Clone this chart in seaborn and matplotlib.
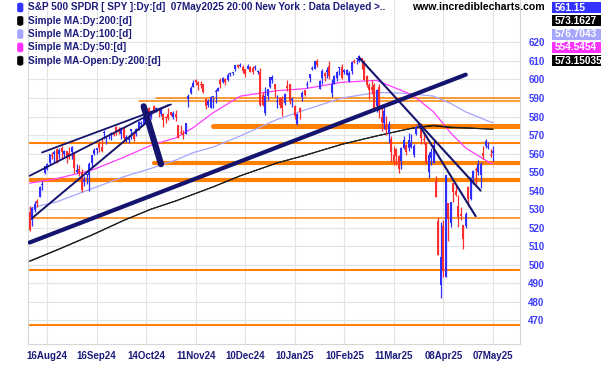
import numpy as np
import pandas as pd
import seaborn as sns
import matplotlib.pyplot as plt
from matplotlib.patches import FancyBboxPatch, Rectangle

# trading days shown on the chart
holidays = ['2024-09-02', '2024-11-28', '2024-12-25', '2025-01-01',
            '2025-01-09', '2025-01-20', '2025-02-17', '2025-04-18']
dates = pd.bdate_range('2024-08-07', '2025-05-07')
dates = dates[~dates.isin(pd.to_datetime(holidays))]

# daily OHLC (Aug, Sep, Oct, Nov, Dec, Jan, Feb, Mar, Apr, May)
opens = [528.5, 523.9, 529.8, 534.2, 536.5, 542.9, 549.5, 551.4, 554.7, 559.2, 559.8, 562.6, 559.5, 563.2, 559.5, 561.2, 560.3, 560.8,
         560.5, 550.2, 551.4, 549.9, 544.7, 548.4, 548.7, 555.0, 559.7, 561.7, 565.1, 563.7, 571.0, 567.8, 569.3, 570.5, 571.1, 574.4, 573.4, 570.4,
         573.4, 567.7, 567.4, 572.4, 571.3, 570.4, 573.2, 575.8, 576.1, 581.2, 584.6, 579.8, 585.9, 584.1, 583.9, 581.1, 581.3, 580.0, 581.5, 582.6, 579.9, 581.3, 575.6,
         571.3, 571.2, 570.7, 589.2, 592.9, 596.2, 599.8, 598.7, 597.4, 597.3, 589.7, 586.2, 584.7, 590.4, 593.4, 593.7, 599.5, 598.8, 600.5, 599.7,
         603.0, 603.4, 605.6, 607.7, 607.4, 606.6, 605.4, 605.8, 606.6, 606.4, 606.0, 604.2, 604.0, 591.4, 581.8, 590.9, 596.1, 599.5, 597.5, 587.9, 589.9,
         589.4, 587.5, 596.3, 597.4, 588.7, 585.9, 575.8, 584.4, 590.3, 594.2, 597.0, 600.7, 605.9, 605.8, 609.8, 594.8, 600.6, 603.7, 604.0, 607.5,
         592.7, 597.8, 600.6, 606.0, 606.9, 604.0, 602.6, 599.2, 604.5, 609.9, 610.9, 610.1, 611.5, 610.2, 602.0, 597.2, 595.9, 597.0, 585.6,
         596.2, 579.7, 576.7, 575.5, 570.9, 567.6, 559.4, 562.2, 558.5, 556.1, 562.8, 564.8, 562.8, 563.3, 559.3, 570.8, 575.3, 575.2, 567.2, 565.5, 549.8,
         557.5, 555.1, 545.1, 523.7, 489.2, 521.0, 493.4, 533.1, 522.6, 544.1, 539.7, 531.7, 527.6, 521.2, 521.0, 542.0, 535.5, 546.6, 551.4, 550.0, 548.6,
         560.4, 564.2, 563.4, 559.0, 560.2]
highs = [531.6, 531.3, 534.5, 535.7, 542.3, 545.0, 553.5, 555.0, 559.6, 560.8, 562.1, 563.2, 563.1, 563.9, 562.1, 561.6, 563.7, 564.2,
         560.8, 554.4, 553.8, 551.6, 547.7, 549.2, 555.4, 559.4, 563.0, 563.1, 566.6, 568.7, 572.9, 569.3, 570.4, 571.4, 571.9, 574.7, 574.2, 574.4,
         574.1, 569.9, 569.8, 573.4, 572.0, 573.8, 577.7, 577.6, 580.3, 585.3, 584.9, 582.8, 586.1, 585.4, 584.0, 584.5, 581.7, 580.1, 584.5, 582.7, 582.9, 583.3, 575.6,
         575.6, 572.5, 576.7, 591.9, 596.7, 599.6, 600.2, 599.3, 599.2, 597.8, 590.2, 589.5, 591.0, 590.8, 595.1, 596.2, 600.9, 601.3, 600.9, 603.3,
         604.3, 604.2, 607.9, 608.5, 609.1, 607.6, 605.8, 608.4, 607.2, 607.2, 607.8, 605.2, 606.4, 593.0, 595.8, 594.5, 601.3, 602.5, 597.8, 591.7, 590.6,
         591.1, 592.6, 599.7, 597.8, 590.6, 586.0, 581.8, 585.0, 593.9, 594.4, 599.4, 603.1, 607.4, 609.8, 610.8, 599.7, 605.4, 604.1, 606.6, 610.0,
         600.3, 602.3, 604.4, 606.5, 608.1, 605.5, 605.9, 604.6, 609.9, 611.0, 611.5, 613.2, 611.5, 610.3, 602.2, 597.9, 599.6, 598.0, 594.7,
         597.3, 585.4, 584.9, 580.2, 577.4, 569.5, 564.0, 563.1, 559.1, 563.8, 569.7, 565.0, 571.0, 570.6, 564.9, 575.2, 576.4, 576.3, 570.9, 566.3, 560.7,
         562.9, 567.4, 548.0, 525.9, 523.2, 524.0, 548.6, 533.5, 533.9, 544.3, 543.2, 537.9, 531.2, 521.7, 528.3, 542.5, 547.4, 551.0, 553.0, 556.5, 555.4,
         564.2, 568.0, 566.2, 562.5, 564.2]
lows = [518.1, 521.1, 528.6, 531.0, 536.4, 540.1, 548.9, 551.3, 553.9, 556.9, 554.7, 555.0, 557.3, 557.2, 558.3, 555.0, 557.2, 557.1,
        549.5, 549.5, 547.7, 539.4, 542.7, 543.4, 540.0, 552.7, 559.4, 559.9, 560.8, 560.8, 568.1, 565.2, 568.0, 567.4, 569.4, 569.9, 570.4, 568.1,
        566.0, 566.2, 565.5, 568.0, 566.6, 569.5, 572.6, 574.5, 575.9, 580.6, 578.5, 578.9, 582.2, 582.6, 579.5, 580.4, 574.4, 576.6, 578.1, 580.5, 578.4, 577.8, 568.4,
        570.6, 567.9, 570.5, 585.4, 592.0, 596.2, 597.0, 594.4, 595.5, 592.7, 583.9, 585.3, 584.6, 584.6, 587.5, 593.6, 595.2, 598.1, 597.2, 599.4,
        602.0, 602.3, 604.8, 606.3, 606.7, 603.4, 601.4, 605.5, 604.3, 602.8, 605.2, 602.9, 585.9, 585.9, 580.9, 589.0, 595.5, 598.1, 590.8, 584.4, 584.4,
        580.5, 586.4, 593.6, 586.8, 585.2, 578.6, 575.4, 578.4, 588.2, 590.9, 595.6, 598.7, 605.1, 605.5, 606.8, 594.6, 597.3, 599.2, 600.7, 600.1,
        590.5, 597.3, 599.2, 602.6, 600.1, 602.7, 602.4, 598.5, 603.2, 609.1, 608.4, 609.6, 605.4, 599.5, 596.1, 589.6, 591.9, 584.7, 582.4,
        579.4, 572.3, 573.1, 570.1, 565.6, 555.6, 553.6, 553.8, 549.7, 551.5, 562.4, 559.1, 561.6, 562.9, 558.0, 570.1, 573.6, 565.2, 564.9, 554.5, 546.9,
        553.7, 554.8, 536.7, 505.3, 481.8, 493.1, 493.1, 512.7, 520.2, 533.9, 536.9, 520.3, 523.9, 508.5, 520.0, 531.6, 535.0, 543.5, 543.6, 548.2, 541.5,
        557.0, 562.8, 562.3, 557.9, 555.9]
closes = [518.7, 530.7, 533.0, 533.3, 542.0, 543.8, 553.1, 554.3, 559.6, 558.7, 560.6, 556.2, 562.1, 560.8, 561.6, 558.3, 558.4, 563.7,
          552.1, 551.0, 549.6, 540.4, 546.4, 548.8, 554.4, 559.1, 562.0, 562.8, 563.1, 561.4, 571.0, 568.3, 569.7, 571.3, 570.0, 572.3, 571.5, 573.8,
          568.6, 568.9, 567.8, 573.0, 567.8, 573.2, 577.1, 576.1, 579.6, 584.3, 579.8, 582.3, 582.4, 584.6, 583.6, 583.3, 578.0, 579.2, 579.0, 580.8, 581.8, 580.0, 568.6,
          571.0, 569.8, 576.7, 591.0, 595.6, 598.2, 598.8, 596.9, 597.2, 593.4, 585.8, 588.2, 590.3, 590.5, 593.7, 595.5, 597.5, 600.7, 598.8, 602.6,
          603.6, 603.9, 607.7, 606.7, 607.8, 604.7, 602.8, 607.5, 604.3, 604.2, 606.8, 604.3, 586.3, 586.1, 591.2, 594.7, 601.3, 601.3, 595.0, 588.2, 586.1,
          584.6, 592.0, 595.4, 588.6, 589.5, 580.5, 581.4, 582.2, 592.8, 591.6, 597.6, 603.1, 606.4, 609.8, 608.0, 599.4, 604.5, 601.8, 605.0, 601.8,
          597.8, 601.8, 604.2, 606.3, 600.8, 604.9, 605.3, 603.4, 609.7, 609.7, 611.5, 612.9, 610.4, 599.9, 597.2, 594.2, 594.5, 584.8, 594.2,
          583.1, 576.9, 583.1, 572.7, 575.9, 560.6, 555.9, 558.9, 551.4, 562.8, 567.2, 561.0, 567.1, 565.5, 564.0, 574.1, 575.5, 568.6, 567.1, 555.7, 559.4,
          561.0, 564.5, 536.7, 505.3, 504.4, 496.5, 548.6, 524.6, 533.9, 539.1, 537.6, 525.7, 526.4, 513.9, 527.3, 535.4, 546.7, 550.6, 550.9, 554.3, 554.5,
          558.5, 566.8, 563.5, 558.8, 561.2]

# moving averages
ma_dates = ['2024-08-07', '2024-08-22', '2024-09-12', '2024-10-01', '2024-10-16', '2024-10-30', '2024-11-08',
            '2024-11-20', '2024-12-06', '2024-12-30', '2025-01-16', '2025-02-07', '2025-02-28', '2025-03-18',
            '2025-03-24', '2025-04-02', '2025-04-11', '2025-04-22', '2025-05-06', '2025-05-07']
ma50 = [544, 546.5, 551, 558, 564.5, 568.5, 574, 582, 591, 594, 595, 598.5, 599.5, 593, 590, 582.5, 571, 563, 554.8, 554.5454]
ma100 = [530.5, 534, 541, 547.5, 552, 556.5, 560.5, 563.5, 569.5, 578.5, 583.5, 590, 593, 592.5, 592, 591, 587, 582.5, 577, 576.7043]
ma200 = [502, 508, 516, 524, 530, 534.5, 538, 542, 548, 555, 559, 565, 569.5, 573, 574, 575, 574, 573.8, 573.2, 573.1627]
ma200_open = [501.8, 507.9, 515.9, 523.9, 530, 534.4, 538, 542, 548, 555, 559, 565, 569.5, 573.1, 574.1, 575.3, 574.3, 573.9, 573.2, 573.15035]

# drawn trendlines: start date/price, end date/price
trend_start = ['2024-08-07', '2024-08-07', '2024-08-14', '2024-08-08', '2024-10-11', '2025-02-19', '2025-03-25']
trend_p0 = [512.0, 548.0, 560.6, 525.2, 585.5, 611.7, 575.9]
trend_end = ['2025-04-22', '2024-10-25', '2024-10-28', '2024-10-14', '2024-10-22', '2025-04-30', '2025-04-28']
trend_p1 = [602.6, 586.2, 586.5, 576.6, 554.3, 540.0, 526.2]
trend_lw = [3.0, 1.3, 1.3, 1.4, 4.5, 1.5, 1.5]

# support / resistance levels (None = from the left edge)
levels = [589.8, 588.5, 575.0, 565.9, 554.7, 545.7, 525.0, 497.2, 467.3]
level_start = ['2024-10-18', '2024-10-09', '2024-11-20', None, '2024-10-17', None, None, None, None]
level_lw = [1.1, 1.1, 3.6, 1.5, 3.0, 3.0, 1.1, 1.5, 1.5]

tick_dates = ['2024-08-16', '2024-09-16', '2024-10-14', '2024-11-11', '2024-12-10',
              '2025-01-10', '2025-02-10', '2025-03-11', '2025-04-08', '2025-05-07']
tick_labels = ['16Aug24', '16Sep24', '14Oct24', '11Nov24', '10Dec24',
               '10Jan25', '10Feb25', '11Mar25', '08Apr25', '07May25']

df = pd.DataFrame({'date': dates, 'open': opens, 'high': highs, 'low': lows, 'close': closes})
df['x'] = np.arange(len(df))
pos = dict(zip(df['date'], df['x']))


def xp(d):
    return pos[pd.Timestamp(d)]


sns.set_style('white')
plt.rcParams['font.family'] = ['Liberation Sans', 'DejaVu Sans']

NAVY = '#1c1c7c'
ORANGE = '#ff8000'
BLUE = '#2e2eff'
RED = '#ff2e2e'

fig = plt.figure(figsize=(6.02, 3.65), dpi=100)
ax = fig.add_axes([28.4 / 602, 21 / 365, (520 - 28.4) / 602, 344 / 365])
x0, x1 = -0.52, 197.9
ax.set_xlim(x0, x1)
ax.set_ylim(457.2, 642.9)

# grid
ax.set_yticks(np.arange(470, 630, 10))
ax.set_xticks([xp(d) for d in tick_dates])
ax.set_xticklabels(tick_labels)
ax.grid(True, color='#e3e3e3', lw=0.8, zorder=0)
ax.set_axisbelow(True)

# levels
for lv, st, lw in zip(levels, level_start, level_lw):
    xs = x0 if st is None else xp(st)
    ax.plot([xs, x1], [lv, lv], color=ORANGE, lw=lw, solid_capstyle='round', zorder=2)

# moving averages
ma_df = pd.DataFrame({'x': [xp(d) for d in ma_dates], 'ma50': ma50, 'ma100': ma100,
                      'ma200': ma200, 'ma200o': ma200_open})
sns.lineplot(data=ma_df, x='x', y='ma100', color='#a4a4ff', lw=0.9, ax=ax, zorder=3)
sns.lineplot(data=ma_df, x='x', y='ma50', color='#ff3cff', lw=0.9, ax=ax, zorder=3)
sns.lineplot(data=ma_df, x='x', y='ma200', color='black', lw=0.8, ax=ax, zorder=3)
sns.lineplot(data=ma_df, x='x', y='ma200o', color='#222222', lw=0.8, ax=ax, zorder=3)

# candles
up = df['close'] >= df['open']
cols = np.where(up, BLUE, RED)
ax.vlines(df['x'], df['low'], df['high'], colors=cols, lw=0.9, zorder=4)
body = np.maximum((df['close'] - df['open']).abs(), 0.5)
ax.bar(df['x'], body, bottom=np.minimum(df['open'], df['close']), width=0.8,
       color=cols, lw=0, zorder=5)

# trendlines
for s, p0, e, p1, lw in zip(trend_start, trend_p0, trend_end, trend_p1, trend_lw):
    ax.plot([xp(s), xp(e)], [p0, p1], color='#14146e', lw=lw, solid_capstyle='round', zorder=6)

ax.set_xlabel('')
ax.set_ylabel('')
ax.yaxis.tick_right()
ax.tick_params(axis='y', length=0, pad=6, labelsize=7, labelcolor='#3d3dff')
ax.tick_params(axis='x', length=0, pad=5, labelsize=7, labelcolor=NAVY)
for lab in ax.get_xticklabels() + ax.get_yticklabels():
    lab.set_fontweight('bold')
for sp in ax.spines.values():
    sp.set_color('#d6d6d6')
    sp.set_linewidth(0.8)
ax.spines['top'].set_visible(False)

# legend block (top left)
W, H = 602.0, 365.0
legend_text = ['S&P 500 SPDR [ SPY ]:Dy:[d]  07May2025 20:00 New York : Data Delayed >..',
               'Simple MA:Dy:200:[d]', 'Simple MA:Dy:100:[d]', 'Simple MA:Dy:50:[d]',
               'Simple MA-Open:Dy:200:[d]']
legend_cols = ['#3333ff', 'black', '#a6a6ff', '#ff33ff', 'black']
for i, (t, c) in enumerate(zip(legend_text, legend_cols)):
    yc = 7.5 + 13.3 * i
    fig.add_artist(FancyBboxPatch((17.5 / W, 1 - (yc + 4.5) / H), 5.5 / W, 9 / H,
                                  boxstyle='round,pad=0,rounding_size=0.004',
                                  transform=fig.transFigure, facecolor=c, edgecolor=c, lw=0.5))
    fig.text(28 / W, 1 - yc / H, t, ha='left', va='center', fontsize=7.2,
             fontweight='bold', color=NAVY)

fig.text(412 / W, 1 - 7.5 / H, 'www.incrediblecharts.com', ha='left', va='center',
         fontsize=7.6, fontweight='bold', color='black')

# value boxes (top right)
box_text = ['561.15', '573.1627', '576.7043', '554.5454', '573.15035']
box_cols = ['#3333ff', 'black', '#a6a6ff', '#ff33ff', 'black']
for i, (t, c) in enumerate(zip(box_text, box_cols)):
    yc = 7.7 + 13.2 * i
    fig.add_artist(Rectangle((552 / W, 1 - (yc + 5.5) / H), 49 / W, 11 / H,
                             transform=fig.transFigure, facecolor=c, edgecolor='none'))
    fig.text(554.5 / W, 1 - yc / H, t, ha='left', va='center', fontsize=7.3,
             fontweight='bold', color='white')

fig.savefig('out.png', dpi=100)
